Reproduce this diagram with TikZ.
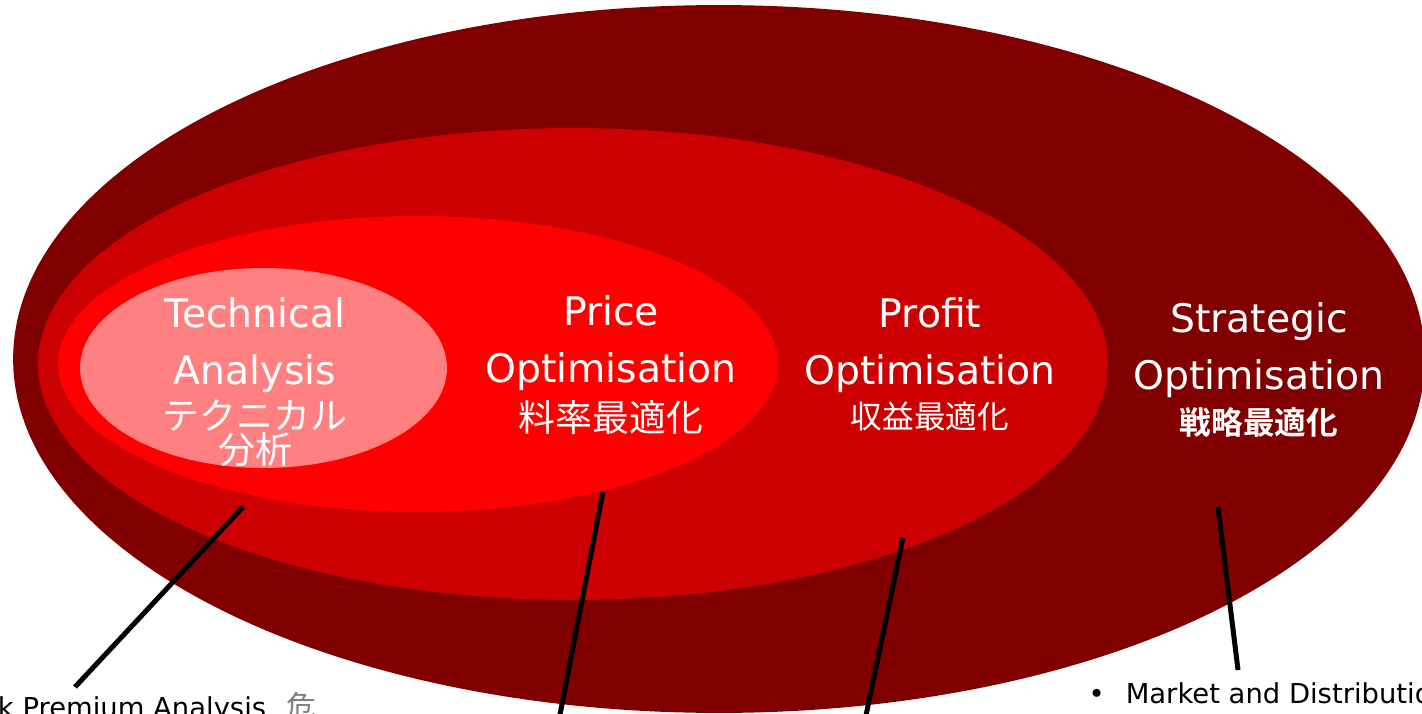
\documentclass[tikz,border=0pt]{standalone}
\usepackage{fontspec}
\setmainfont{DejaVu Sans}
\newfontfamily\jpfont{Noto Sans CJK JP}[BoldFont={Noto Sans CJK JP Bold}]
\usepackage{tikz}
\usetikzlibrary{positioning,calc,shapes.geometric}
\definecolor{stratred}{HTML}{800000}
\definecolor{profitred}{HTML}{CC0000}
\definecolor{pricered}{HTML}{FF0000}
\definecolor{techred}{HTML}{FF8080}
\tikzset{
  every picture/.append style={line width=0.6pt},
}

\begin{document}
\begin{tikzpicture}[
  x=0.02cm, y=-0.02cm,
  zone/.style={ellipse, draw=none, inner sep=0pt},
  txt/.style={text=white, align=center, inner sep=0pt, font=\fontsize{22.4}{32.4}\selectfont},
  jp/.style={text=white, align=center, inner sep=0pt},
  stem/.style={line width=0.1cm, black},
  note/.style={anchor=base west, inner sep=0pt, font=\fontsize{15.6}{18}\selectfont}
]
% Frame (fixed size, everything outside is cut)
\useasboundingbox (0,0) rectangle (1422,713);
\clip (0,0) rectangle (1422,713);

% Nested regions, outer to inner
\node[zone, fill=stratred, minimum width=28.24cm, minimum height=14.16cm] (strat) at (719,359) {};
\node[zone, fill=profitred, minimum width=21.4cm, minimum height=9.44cm] (profit) at (573,364) {};
\node[zone, fill=pricered, minimum width=14.4cm, minimum height=5.92cm] (price) at (418,364) {};
\node[zone, fill=techred, minimum width=7.34cm, minimum height=4.0cm] (tech) at (263.5,368) {};

% Region titles
\node[txt] (techtxt) at (255,345.5) {Technical\\Analysis};
\node[jp, font=\jpfont\fontsize{21}{17.6}\selectfont] (techjp) at (255,433) {テクニカル\\分析};
\node[txt] (pricetxt) at (611,343) {Price\\Optimisation};
\node[jp, font=\jpfont\fontsize{21}{25}\selectfont] (pricejp) at (611,418) {料率最適化};
\node[txt] (profittxt) at (930,345.5) {Profit\\Optimisation};
\node[jp, font=\jpfont\fontsize{18}{22}\selectfont] (profitjp) at (930,416) {収益最適化};
\node[txt] (strattxt) at (1259,350.5) {Strategic\\Optimisation};
\node[jp, font=\jpfont\bfseries\fontsize{18}{22}\selectfont] (stratjp) at (1259,422) {戦略最適化};

% Pointer lines
\coordinate (techtip) at (243,507);
\coordinate (techend) at (75,687);
\coordinate (pricetip) at (603,492);
\coordinate (priceend) at (558,725);
\coordinate (profittip) at (903,538);
\coordinate (profitend) at (864,725);
\coordinate (strattip) at (1218,507);
\coordinate (stratend) at (1238,670);
\draw[stem] (techtip) -- (techend);
\draw[stem] (pricetip) -- (priceend);
\draw[stem] (profittip) -- (profitend);
\draw[stem] (strattip) -- (stratend);

% Notes under the lines
\node[note] (risknote) at (-43.5,717) {Risk Premium Analysis\hspace{0.75em}{\jpfont\fontsize{17}{18}\selectfont\color{gray}危}};
\node[note] (marketnote) at (1088,703) {•\hspace{12pt}Market and Distribution};

\end{tikzpicture}
\end{document}
